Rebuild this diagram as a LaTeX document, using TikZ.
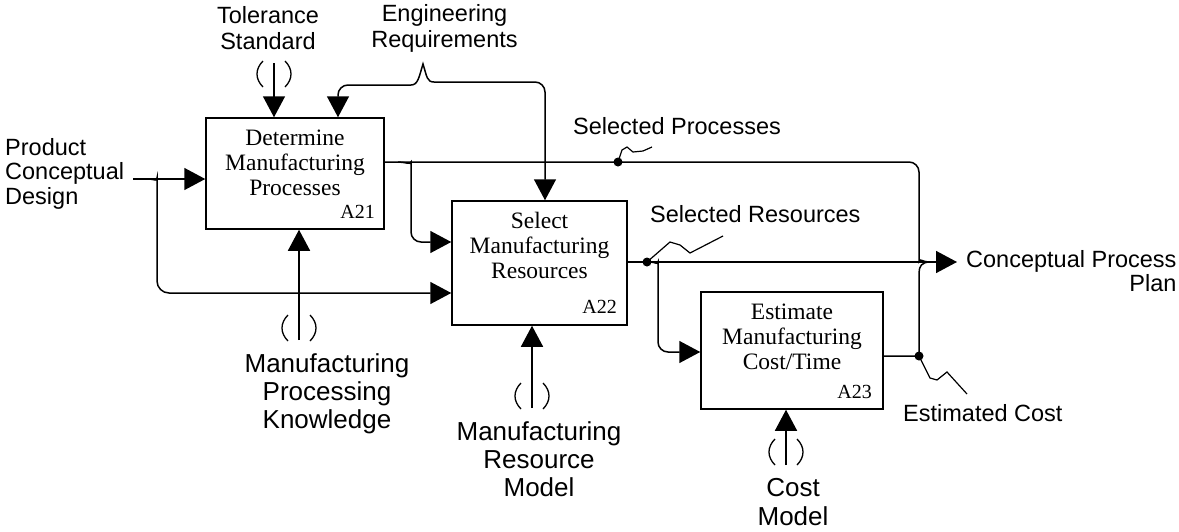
\documentclass[tikz,border=0pt]{standalone}
\usepackage{fontspec}
\setmainfont{Liberation Serif}
\setsansfont{Liberation Sans}
\usetikzlibrary{arrows.meta}

\tikzset{
  flow/.style={line width=1.5pt, draw=black},
  arr/.style={flow, -{Triangle[length=21pt,width=22pt]}},
  squig/.style={line width=1.2pt, draw=black},
  box/.style={draw, line width=1.5pt, inner sep=0pt},
  boxtxt/.style={font=\fontsize{23.5}{25}\selectfont, align=center, anchor=base, inner sep=0pt},
  tag/.style={font=\fontsize{20}{22}\selectfont, anchor=base east, inner sep=0pt},
  lbl/.style={font=\sffamily\fontsize{23.5}{25.5}\selectfont, inner sep=0pt},
  biglbl/.style={font=\sffamily\fontsize{26}{28}\selectfont, align=center, anchor=base, inner sep=0pt},
  jdot/.style={circle, fill=black, inner sep=0pt, minimum size=9pt},
  tunnel/.pic={
    \draw[line width=1.3pt] (-11,0) .. controls (-19,8) and (-19,18) .. (-11,26);
    \draw[line width=1.3pt] (11,0) .. controls (19,8) and (19,18) .. (11,26);
  }
}

\begin{document}
\begin{tikzpicture}[x=1pt,y=-1pt]
\useasboundingbox (0,0) rectangle (1179,531);

% activity boxes
\node[box, minimum width=178pt, minimum height=111pt] (A21) at (295,173.5) {};
\node[box, minimum width=175pt, minimum height=124pt] (A22) at (539.5,263) {};
\node[box, minimum width=182pt, minimum height=117pt] (A23) at (792,350.5) {};

% activity names (anchored at the baseline of the last line)
\node[boxtxt] (A21t) at (295,195) {Determine\\Manufacturing\\Processes};
\node[boxtxt] (A22t) at (539.5,278) {Select\\Manufacturing\\Resources};
\node[boxtxt] (A23t) at (792,369) {Estimate\\Manufacturing\\Cost/Time};

\node[tag] (A21n) at (375,218) {A21};
\node[tag] (A22n) at (617,313) {A22};
\node[tag] (A23n) at (872,398) {A23};

% outside labels
\node[lbl, align=center, anchor=base] (tol) at (268,49) {Tolerance\\Standard};
\node[lbl, align=center, anchor=base] (eng) at (444.5,47) {Engineering\\Requirements};
\node[lbl, align=left, anchor=base west, font=\sffamily\fontsize{23.5}{24.5}\selectfont] (pcdl) at (5,204) {Product\\Conceptual\\Design};
\node[lbl, anchor=base west] (spl) at (573,134) {Selected Processes};
\node[lbl, anchor=base west] (srl) at (650,222) {Selected Resources};
\node[lbl, align=right, anchor=base west, font=\sffamily\fontsize{23.5}{23.5}\selectfont] (cppl) at (966,291) {Conceptual Process\\Plan};
\node[lbl, anchor=base west] (ecl) at (903,421) {Estimated Cost};
\node[biglbl] (mpkl) at (327,428) {Manufacturing\\Processing\\Knowledge};
\node[biglbl] (mrml) at (539,496) {Manufacturing\\Resource\\Model};
\node[biglbl, font=\sffamily\fontsize{26}{29}\selectfont] (cml) at (793,525) {Cost\\Model};

% controls from above
\coordinate (tolS) at (274,63);
\draw[arr] (tolS) -- (tolS |- A21.north);
\pic at (274,61) {tunnel};

\coordinate (braceTip) at (423,64);
\coordinate (braceL) at (411,85);
\coordinate (braceR) at (434,82);
\coordinate (engL) at (338,85);
\coordinate (engR) at (545,82);
\draw[flow] (braceL) .. controls (418,85) and (419,77) .. (braceTip)
            .. controls (427,77) and (427,82) .. (braceR);
\draw[arr, rounded corners=10pt] (braceL) -- (engL) -- (engL |- A21.north);
\draw[arr, rounded corners=10pt] (braceR) -- (engR) -- (engR |- A22.north);

% input
\coordinate (pcd) at (133,179);
\coordinate (pcdFork) at (157,293);
\draw[arr] (pcd) -- (pcd -| A21.west);
\draw[arr, rounded corners=12pt] (148,179) .. controls (155,179) and (157,182) .. (157,190)
      -- (pcdFork) -- (pcdFork -| A22.west);

% outputs and junctions
\coordinate (jx) at (919,262);
\coordinate (cpp) at (957,262);
\coordinate (f21) at (411,242);
\coordinate (f22) at (658,352);
\coordinate (ec) at (919,356);

\node[jdot] (spd) at (618,162) {};
\node[jdot] (srd) at (647,262) {};
\node[jdot] (ecd) at (ec) {};

\draw[flow, rounded corners=10pt] (A21.east |- spd) -- (919,162) -- (919,251)
      .. controls (919,258) and (922,262) .. (930,262);
\draw[arr, rounded corners=10pt] (398,162) .. controls (405,162) and (411,165) .. (411,172)
      -- (f21) -- (f21 -| A22.west);

\draw[arr] (A22.east |- cpp) -- (cpp);
\draw[arr, rounded corners=10pt] (650,262) .. controls (655,262) and (658,265) .. (658,272)
      -- (f22) -- (f22 -| A23.west);

\draw[flow] (A23.east |- ec) -- (ecd.center) -- (919,273)
      .. controls (919,266) and (922,262) .. (930,262);

% label squiggles
\draw[squig] (spd.center) -- (622,150) -- (627,147) -- (633,152) -- (643,151) -- (652,147);
\draw[squig] (srd.center) -- (670,242) -- (680,245) -- (690,253) -- (723,236);
\draw[squig] (ecd.center) -- (930,378) -- (937,380) -- (947,372) -- (967,394);

% mechanisms from below
\coordinate (mpk) at (299,340);
\coordinate (mrm) at (532,408);
\coordinate (cm) at (786,465);
\draw[arr] (mpk) -- (mpk |- A21.south);
\draw[arr] (mrm) -- (mrm |- A22.south);
\draw[arr] (cm) -- (cm |- A23.south);
\pic at (299,315) {tunnel};
\pic at (532,383) {tunnel};
\pic at (786,439) {tunnel};
\end{tikzpicture}
\end{document}
